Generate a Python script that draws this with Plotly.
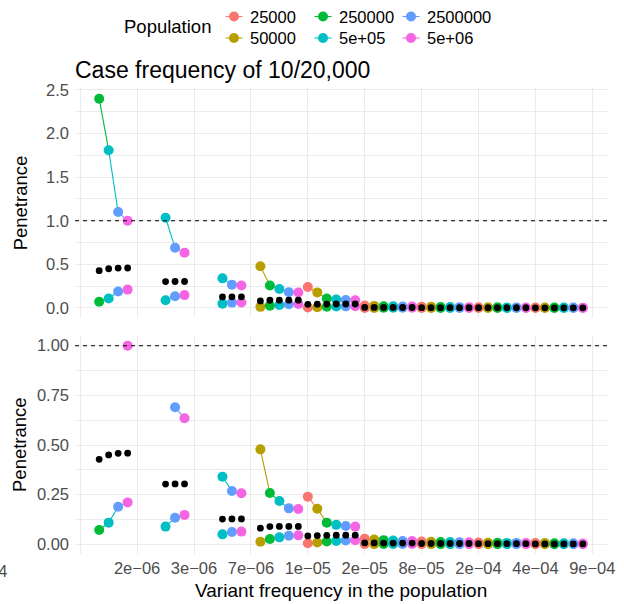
import plotly.graph_objects as go

W, H = 624, 604
FONT = "Liberation Sans, Arial, sans-serif"

# ---------------- data ----------------
populations = ["25000", "50000", "250000", "5e+05", "2500000", "5e+06"]
pop_colors = ["#F8766D", "#B79F00", "#00BA38", "#00BFC4", "#619CFF", "#F564E3"]

# x-axis tick labels (one every 6 positions = one per frequency group boundary)
tick_labels = ["", "2e\u221206", "3e\u221206", "7e\u221206", "1e\u221205",
               "2e\u221205", "8e\u221205", "2e\u221204", "4e\u221204", "9e\u221204"]

N = None
# rows = frequency groups, columns = populations
upper = [
    [N, N, 2.40, 1.81, 1.10, 1.00],
    [N, N, N, 1.035, 0.69, 0.635],
    [N, N, N, 0.34, 0.268, 0.257],
    [N, 0.478, 0.258, 0.218, 0.181, 0.178],
    [0.24, 0.179, 0.109, 0.098, 0.092, 0.089],
    [0.028, 0.024, 0.021, 0.019, 0.017, 0.016],
    [0.014, 0.013, 0.012, 0.011, 0.010, 0.010],
    [0.009, 0.008, 0.008, 0.007, 0.007, 0.006],
    [0.006, 0.006, 0.005, 0.005, 0.005, 0.004],
]
middle = [
    [N, N, 0.428, 0.450, 0.458, 0.459],
    [N, N, N, 0.303, 0.304, 0.304],
    [N, N, N, 0.127, 0.128, 0.128],
    [N, 0.081, 0.089, 0.090, 0.090, 0.090],
    [0.042, 0.044, 0.045, 0.046, 0.046, 0.046],
    [0.007, 0.007, 0.006, 0.006, 0.006, 0.006],
    [0.004, 0.004, 0.004, 0.004, 0.004, 0.004],
    [0.003, 0.003, 0.003, 0.003, 0.003, 0.003],
    [0.002, 0.002, 0.002, 0.002, 0.002, 0.002],
]
lower = [
    [N, N, 0.072, 0.109, 0.189, 0.211],
    [N, N, N, 0.089, 0.134, 0.148],
    [N, N, N, 0.050, 0.062, 0.064],
    [N, 0.013, 0.027, 0.035, 0.043, 0.045],
    [0.005, 0.009, 0.014, 0.017, 0.019, 0.020],
    [0.001, 0.001, 0.002, 0.002, 0.002, 0.002],
    [0.001, 0.001, 0.001, 0.001, 0.001, 0.001],
    [0.0005, 0.0005, 0.0005, 0.0005, 0.0005, 0.0005],
    [0.0003, 0.0003, 0.0003, 0.0003, 0.0003, 0.0003],
]

n_pop = len(populations)
n_grp = len(upper)


def xpos(g, p):
    return g * n_pop + p


# ---------------- geometry helpers ----------------
def fx(px):
    return px / W


def fy(px):
    return 1 - px / H


X0, X1 = 75, 607
XR = [-0.55, 55.55]
TOP_R = [-0.12, 2.52]
BOT_R = [-0.05, 1.05]
TOP_PX = (308 - 2.52 * 87.2, 308 + 0.12 * 87.2)
BOT_PX = (544.3 - 1.05 * 198.6, 544.3 + 0.05 * 198.6)

fig = go.Figure()


def add_panel(xa, ya, vmax):
    # lines (segment colour = colour of starting point, like geom_path)
    for series in (upper, lower):
        seg = {p: ([], []) for p in range(n_pop)}
        for g in range(n_grp):
            pts = [(p, series[g][p]) for p in range(n_pop)
                   if series[g][p] is not None and (vmax is None or series[g][p] <= vmax)]
            for (p0, v0), (p1, v1) in zip(pts[:-1], pts[1:]):
                xs, ys = seg[p0]
                xs += [xpos(g, p0), xpos(g, p1), None]
                ys += [v0, v1, None]
        for p in range(n_pop):
            xs, ys = seg[p]
            if xs:
                fig.add_trace(go.Scatter(x=xs, y=ys, mode="lines", xaxis=xa, yaxis=ya,
                                         line=dict(color=pop_colors[p], width=1.1),
                                         showlegend=False, hoverinfo="skip"))
    # coloured points
    for p in range(n_pop):
        xs, ys = [], []
        for series in (upper, lower):
            for g in range(n_grp):
                v = series[g][p]
                if v is not None and (vmax is None or v <= vmax):
                    xs.append(xpos(g, p))
                    ys.append(v)
        fig.add_trace(go.Scatter(x=xs, y=ys, mode="markers", xaxis=xa, yaxis=ya,
                                 marker=dict(color=pop_colors[p], size=10, line=dict(width=0)),
                                 name=populations[p], showlegend=False))
    # black points
    xs, ys = [], []
    for g in range(n_grp):
        for p in range(n_pop):
            v = middle[g][p]
            if v is not None and (vmax is None or v <= vmax):
                xs.append(xpos(g, p))
                ys.append(v)
    fig.add_trace(go.Scatter(x=xs, y=ys, mode="markers", xaxis=xa, yaxis=ya,
                             marker=dict(color="black", size=6.8, line=dict(width=0)),
                             showlegend=False))


add_panel("x", "y", None)
add_panel("x2", "y2", 1.0)

GRID = "#EBEBEB"
TICKFONT = dict(family=FONT, size=16.5, color="#4D4D4D")
xticks = [i * n_pop for i in range(len(tick_labels))]

common_x = dict(range=XR, domain=[fx(X0), fx(X1)], tickvals=xticks, ticktext=tick_labels,
                showgrid=True, gridcolor=GRID, gridwidth=1.1, zeroline=False,
                showline=False, ticks="", tickfont=TICKFONT, automargin=False)
fig.update_layout(
    xaxis=dict(anchor="y", showticklabels=False, **common_x),
    xaxis2=dict(anchor="y2", showticklabels=True, ticklabelstandoff=2, **common_x),
    yaxis=dict(anchor="x", range=TOP_R, domain=[fy(TOP_PX[1]), fy(TOP_PX[0])],
               tickvals=[0, 0.5, 1, 1.5, 2, 2.5],
               ticktext=["0.0", "0.5", "1.0", "1.5", "2.0", "2.5"],
               showgrid=True, gridcolor=GRID, gridwidth=1.1, zeroline=False, ticks="",
               tickfont=TICKFONT, automargin=False, ticklabelstandoff=5,
               minor=dict(tickvals=[0.25, 0.75, 1.25, 1.75, 2.25], showgrid=True,
                          gridcolor=GRID, gridwidth=0.6, ticks="")),
    yaxis2=dict(anchor="x2", range=BOT_R, domain=[fy(BOT_PX[1]), fy(BOT_PX[0])],
                tickvals=[0, 0.25, 0.5, 0.75, 1.0],
                ticktext=["0.00", "0.25", "0.50", "0.75", "1.00"],
                showgrid=True, gridcolor=GRID, gridwidth=1.1, zeroline=False, ticks="",
                tickfont=TICKFONT, automargin=False, ticklabelstandoff=5,
                minor=dict(tickvals=[0.125, 0.375, 0.625, 0.875], showgrid=True,
                           gridcolor=GRID, gridwidth=0.6, ticks="")),
    width=W, height=H, margin=dict(l=0, r=0, t=0, b=0),
    paper_bgcolor="white", plot_bgcolor="white", showlegend=False,
    font=dict(family=FONT),
)

shapes = []
# dashed reference line at penetrance = 1
for xr, yr in (("x domain", "y"), ("x2 domain", "y2")):
    shapes.append(dict(type="line", xref=xr, yref=yr, x0=0, x1=1, y0=1, y1=1,
                       line=dict(color="black", width=1.1, dash="4px,4px"), layer="above"))

# legend (manual, 3 columns x 2 rows like ggplot)
leg_cols = [234, 323, 411]
leg_rows = [16.5, 38]
annotations = []
for p in range(n_pop):
    cx = leg_cols[p // 2]
    cy = leg_rows[p % 2]
    shapes.append(dict(type="line", xref="paper", yref="paper",
                       x0=fx(cx - 8.5), x1=fx(cx + 8.5), y0=fy(cy), y1=fy(cy),
                       line=dict(color=pop_colors[p], width=1.1)))
    r = 5
    shapes.append(dict(type="circle", xref="paper", yref="paper",
                       x0=fx(cx - r), x1=fx(cx + r), y0=fy(cy + r), y1=fy(cy - r),
                       fillcolor=pop_colors[p], line=dict(width=0)))
    annotations.append(dict(text=populations[p], xref="paper", yref="paper",
                            x=fx(cx + 14), y=fy(cy), xanchor="left", yanchor="middle",
                            showarrow=False, font=dict(family=FONT, size=16.5, color="black")))
annotations.append(dict(text="Population", xref="paper", yref="paper", x=fx(122), y=fy(27),
                        xanchor="left", yanchor="middle", showarrow=False,
                        font=dict(family=FONT, size=18.5, color="black")))

# title
annotations.append(dict(text="Case frequency of 10/20,000", xref="paper", yref="paper",
                        x=fx(73), y=fy(70), xanchor="left", yanchor="middle", showarrow=False,
                        font=dict(family=FONT, size=23, color="black")))
# axis titles
for cy in ((TOP_PX[0] + TOP_PX[1]) / 2, (BOT_PX[0] + BOT_PX[1]) / 2):
    annotations.append(dict(text="Penetrance", xref="paper", yref="paper", x=fx(20), y=fy(cy),
                            xanchor="center", yanchor="middle", textangle=-90, showarrow=False,
                            font=dict(family=FONT, size=18.5, color="black")))
annotations.append(dict(text="Variant frequency in the population", xref="paper", yref="paper",
                        x=fx((X0 + X1) / 2), y=fy(590), xanchor="center", yanchor="middle",
                        showarrow=False, font=dict(family=FONT, size=19, color="black")))
# clipped tick label of the neighbouring panel at the left edge
annotations.append(dict(text="9e\u221204", xref="paper", yref="paper", x=fx(9), y=fy(571),
                        xanchor="right", yanchor="middle", showarrow=False,
                        font=TICKFONT))

fig.update_layout(shapes=shapes, annotations=annotations)
fig.write_html("out.html")
